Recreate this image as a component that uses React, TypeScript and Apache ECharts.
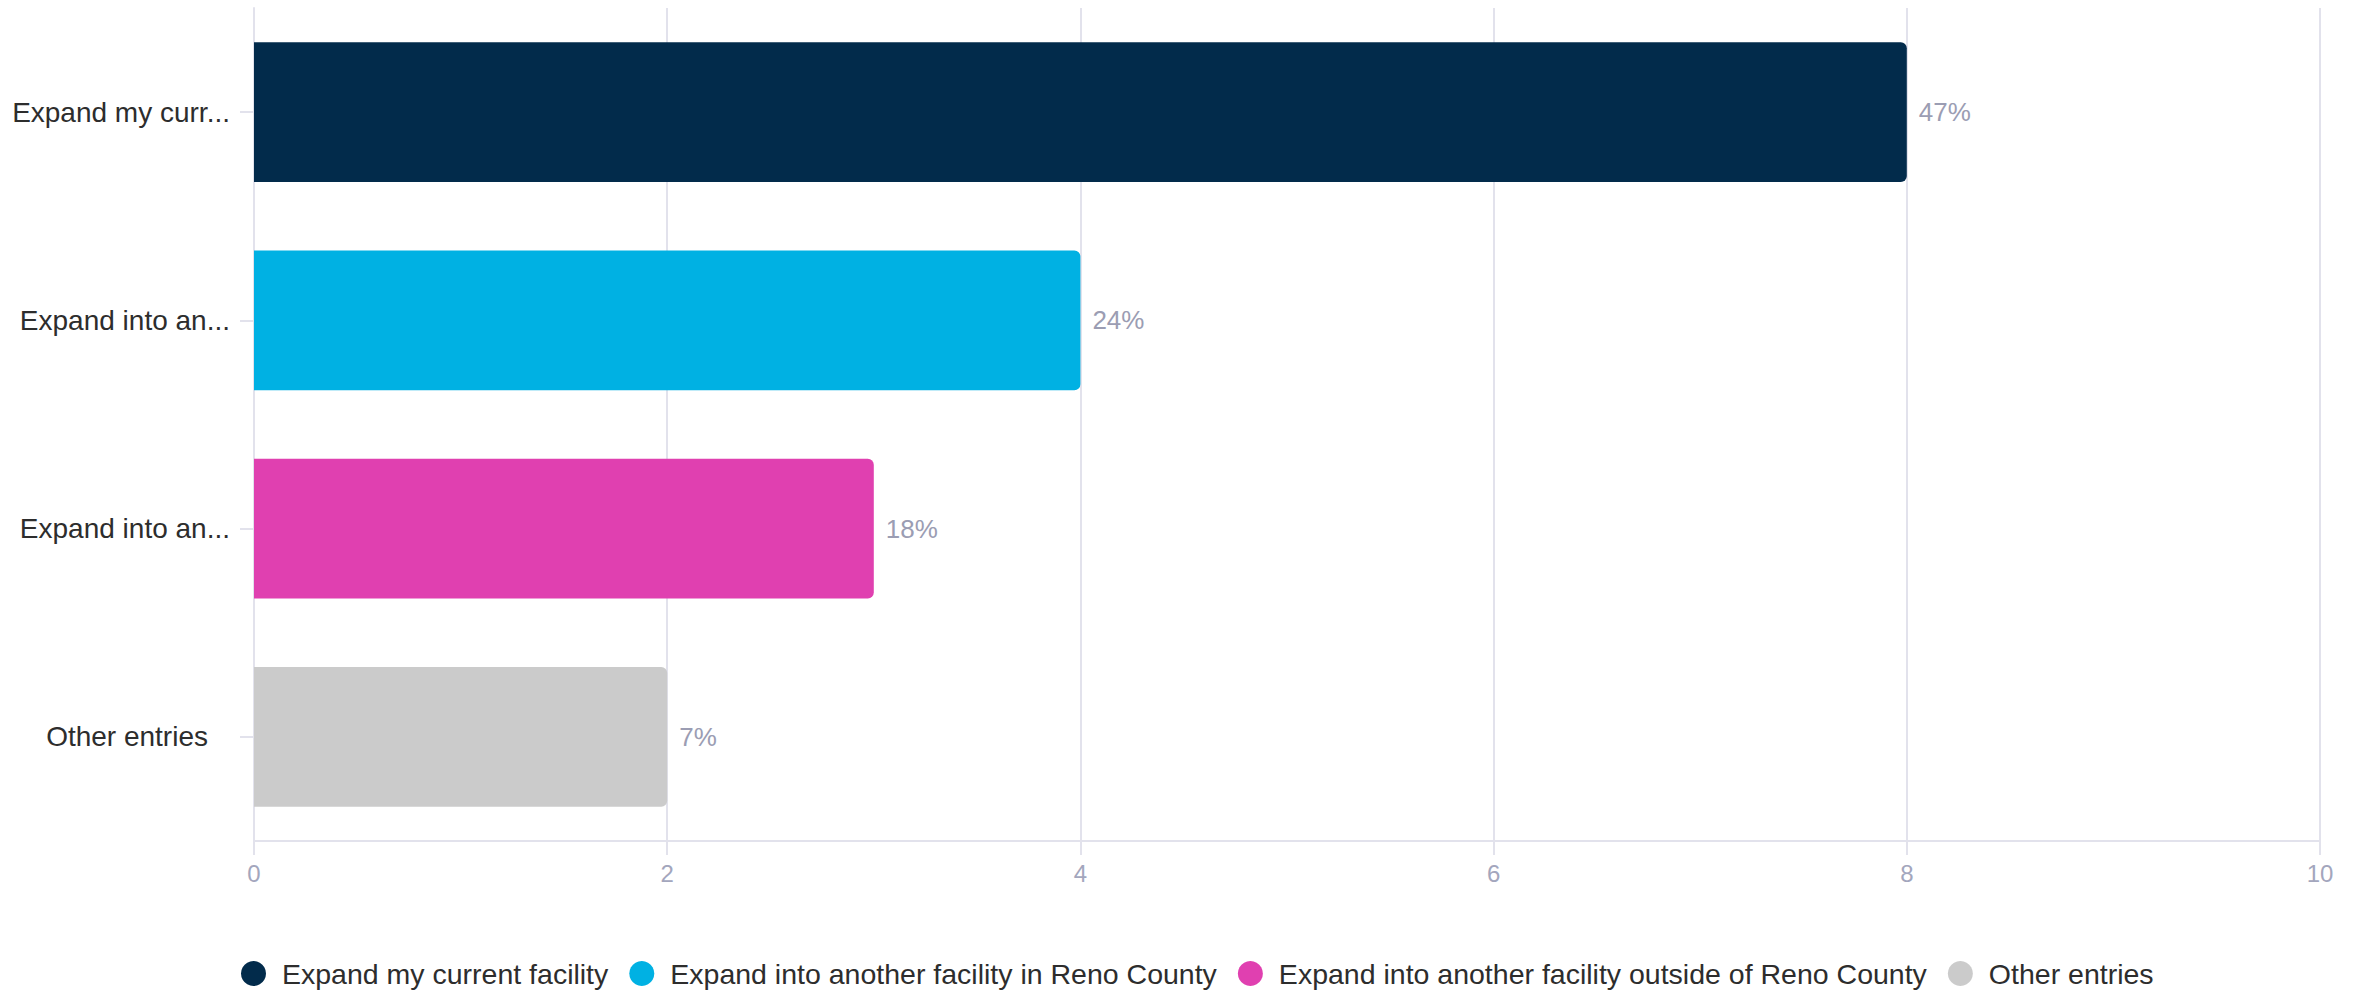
import React, { useEffect, useRef } from "react";
import * as echarts from "echarts";

const categories = [
  "Expand my current facility",
  "Expand into another facility in Reno County",
  "Expand into another facility outside of Reno County",
  "Other entries",
];
const counts = [8, 4, 3, 2];
const percentLabels = ["47%", "24%", "18%", "7%"];
const colors = ["#022b4b", "#00b1e3", "#e040b0", "#cbcbcb"];
const xTicks = { min: 0, max: 10, interval: 2 };

export default function App() {
  const ref = useRef<HTMLDivElement>(null);
  useEffect(() => {
    document.body.style.margin = "0";
    const chart = echarts.init(ref.current!, undefined, { renderer: "svg" });
    const font = "'Liberation Sans', Arial, sans-serif";
    const series = categories.map((name, i) => ({
      name,
      type: "bar",
      stack: "all",
      barCategoryGap: "33%",
      itemStyle: { color: colors[i], borderRadius: [0, 6, 6, 0] },
      label: {
        show: true,
        position: "right",
        distance: 12,
        color: "#9b9db3",
        fontSize: 26,
        fontFamily: font,
        formatter: (p: any) => percentLabels[p.dataIndex],
      },
      data: counts.map((c, j) => (j === i ? c : "-")),
    }));
    chart.setOption({
      animation: false,
      textStyle: { fontFamily: font },
      grid: { left: 254, right: 41, top: 8, bottom: 150, containLabel: false },
      legend: {
        data: categories,
        left: 241,
        top: 959,
        padding: 0,
        icon: "circle",
        itemWidth: 25,
        itemHeight: 25,
        itemGap: 21,
        textStyle: { fontSize: 28.5, color: "#2d2d2d", fontFamily: font, padding: [0, 0, 0, 11] },
      },
      xAxis: {
        type: "value",
        min: xTicks.min,
        max: xTicks.max,
        interval: xTicks.interval,
        axisLine: { show: true, lineStyle: { color: "#e2e2ec", width: 2 } },
        axisTick: { show: true, length: 14, lineStyle: { color: "#e2e2ec", width: 2 } },
        splitLine: { show: true, lineStyle: { color: "#e2e2ec", width: 2 } },
        axisLabel: { color: "#a3a6bd", fontSize: 24, margin: 20, fontFamily: font },
      },
      yAxis: {
        type: "category",
        inverse: true,
        data: categories,
        axisLine: { show: true, lineStyle: { color: "#e2e2ec", width: 2 } },
        axisTick: { show: true, length: 14, alignWithLabel: true, lineStyle: { color: "#e2e2ec", width: 2 } },
        axisLabel: {
          color: "#2d2d2d",
          fontSize: 28,
          margin: 24,
          fontFamily: font,
          formatter: (v: string) => (v.length > 15 ? v.slice(0, 14) + "..." : `{p|${v}}`),
          rich: { p: { fontSize: 28, color: "#2d2d2d", fontFamily: font, padding: [0, 22, 0, 0] } },
        },
      },
      series,
    });
    return () => chart.dispose();
  }, []);
  return <div ref={ref} style={{ width: 2361, height: 991 }} />;
}
